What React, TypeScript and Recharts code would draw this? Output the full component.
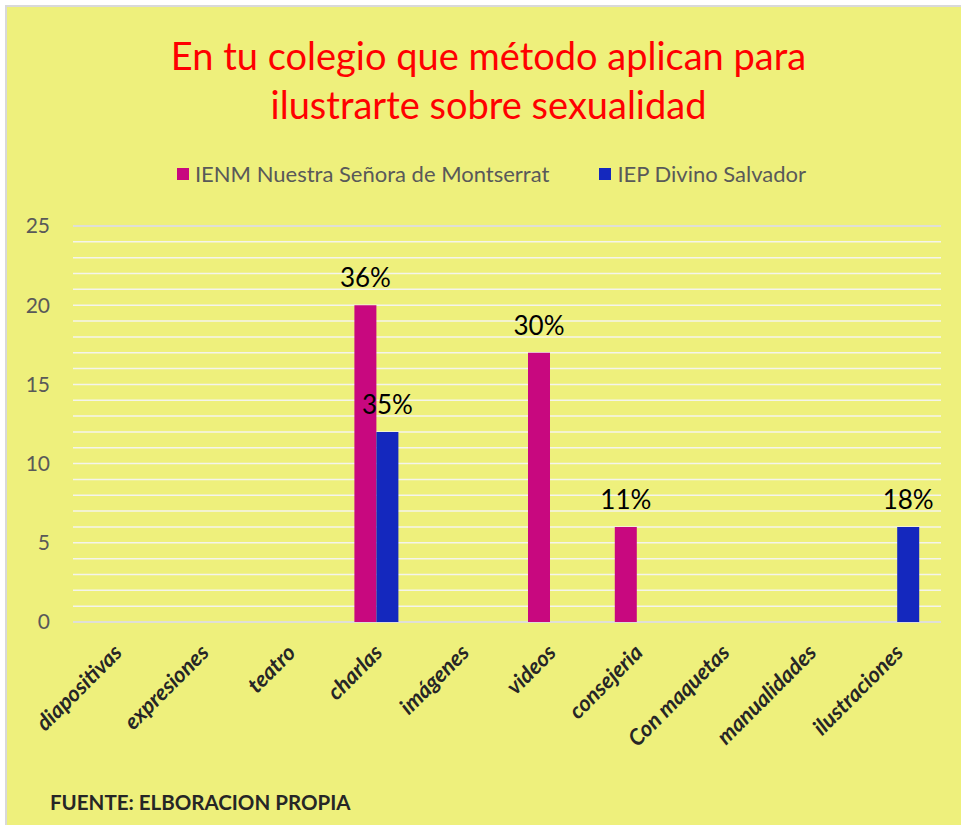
import { BarChart, Bar, XAxis, YAxis, CartesianGrid, LabelList } from 'recharts';

const CATEGORIES = [
  'diapositivas',
  'expresiones',
  'teatro',
  'charlas',
  'imágenes',
  'videos',
  'consejeria',
  'Con maquetas',
  'manualidades',
  'ilustraciones',
];
const IENM_VALUES = [0, 0, 0, 20, 0, 17, 6, 0, 0, 0];
const IEP_VALUES = [0, 0, 0, 12, 0, 0, 0, 0, 0, 6];
const IENM_LABELS = ['', '', '', '36%', '', '30%', '11%', '', '', ''];
const IEP_LABELS = ['', '', '', '35%', '', '', '', '', '', '18%'];
const Y_TICKS = [0, 5, 10, 15, 20, 25];
const MINOR_TICKS = [0, 1, 2, 3, 4, 5, 6, 7, 8, 9, 10, 11, 12, 13, 14, 15, 16, 17, 18, 19, 20, 21, 22, 23, 24, 25];

const IENM_NAME = 'IENM Nuestra Señora de Montserrat';
const IEP_NAME = 'IEP Divino Salvador';

const PINK = '#C8087F';
const BLUE = '#1428BE';
const BG = '#EEF07C';
const FONT = 'Lato, "Open Sans", sans-serif';

const data = CATEGORIES.map((name, i) => ({
  name,
  ienm: IENM_VALUES[i],
  iep: IEP_VALUES[i],
  ienmLabel: IENM_LABELS[i],
  iepLabel: IEP_LABELS[i],
}));

const CategoryTick = ({ x, y, payload }: any) => (
  <g transform={`translate(${x + 7},${y + 32})`}>
    <text
      textAnchor="end"
      transform="rotate(-45)"
      fontSize={22}
      fontWeight="bold"
      fontStyle="italic"
      fill="#262626"
      fontFamily={FONT}
    >
      {payload.value}
    </text>
  </g>
);

export default function App() {
  return (
    <div
      style={{
        position: 'absolute',
        left: 0,
        top: 0,
        width: 961,
        height: 825,
        overflow: 'hidden',
        background: '#fff',
        fontFamily: FONT,
      }}
    >
      {/* chart frame */}
      <div
        style={{
          position: 'absolute',
          left: 5,
          top: 5,
          width: 1000,
          height: 900,
          background: BG,
          borderLeft: '2px solid #d9d9d9',
          borderTop: '2px solid #d9d9d9',
        }}
      />
      <div
        style={{
          position: 'absolute',
          left: 0,
          top: 31,
          width: 977,
          textAlign: 'center',
          color: '#FF0000',
          fontSize: 38,
          lineHeight: '49px',
        }}
      >
        En tu colegio que método aplican para
        <br />
        ilustrarte sobre sexualidad
      </div>
      {/* legend */}
      <div
        style={{
          position: 'absolute',
          left: 3,
          top: 160,
          width: 977,
          display: 'flex',
          justifyContent: 'center',
          alignItems: 'center',
          fontSize: 22,
          color: '#595959',
          gap: 50,
        }}
      >
        <span style={{ display: 'flex', alignItems: 'center', gap: 6 }}>
          <span style={{ width: 12, height: 12, background: PINK, display: 'inline-block' }} />
          {IENM_NAME}
        </span>
        <span style={{ display: 'flex', alignItems: 'center', gap: 6 }}>
          <span style={{ width: 12, height: 12, background: BLUE, display: 'inline-block' }} />
          {IEP_NAME}
        </span>
      </div>
      <div style={{ position: 'absolute', left: 0, top: 0 }}>
        <BarChart
          width={961}
          height={825}
          data={data}
          margin={{ top: 226, right: 20, bottom: 83, left: 0 }}
          barGap={0}
        >
          <YAxis
            yAxisId="minor"
            domain={[0, 25]}
            ticks={MINOR_TICKS}
            interval={0}
            width={73}
            axisLine={false}
            tickLine={false}
            tickSize={0}
            tickMargin={23}
            tickFormatter={(v: number) => (Y_TICKS.includes(v) ? String(v) : '')}
            tick={{ fill: '#595959', fontSize: 21, fontFamily: FONT }}
          />
          {/* invisible axis that only feeds the grey major grid lines */}
          <YAxis
            yAxisId="major"
            orientation="right"
            domain={[0, 25]}
            ticks={Y_TICKS}
            interval={0}
            width={0}
            axisLine={false}
            tickLine={false}
            tickFormatter={() => ''}
          />
          <XAxis
            dataKey="name"
            height={120}
            axisLine={false}
            tickLine={false}
            tickSize={0}
            tickMargin={0}
            interval={0}
            tick={<CategoryTick />}
          />
          <CartesianGrid yAxisId="minor" vertical={false} stroke="#F4F4EC" strokeWidth={1.5} />
          <CartesianGrid yAxisId="major" vertical={false} stroke="#D9D9D9" strokeWidth={1.5} />
          <Bar yAxisId="minor" dataKey="ienm" name={IENM_NAME} fill={PINK} barSize={22} isAnimationActive={false}>
            <LabelList dataKey="ienmLabel" position="top" offset={18} fill="#000" fontSize={26} fontFamily={FONT} />
          </Bar>
          <Bar yAxisId="minor" dataKey="iep" name={IEP_NAME} fill={BLUE} barSize={22} isAnimationActive={false}>
            <LabelList dataKey="iepLabel" position="top" offset={18} fill="#000" fontSize={26} fontFamily={FONT} />
          </Bar>
        </BarChart>
      </div>
      <div
        style={{
          position: 'absolute',
          left: 50,
          top: 790,
          fontSize: 20.5,
          fontWeight: 'bold',
          color: '#262626',
        }}
      >
        FUENTE: ELBORACION PROPIA
      </div>
    </div>
  );
}
